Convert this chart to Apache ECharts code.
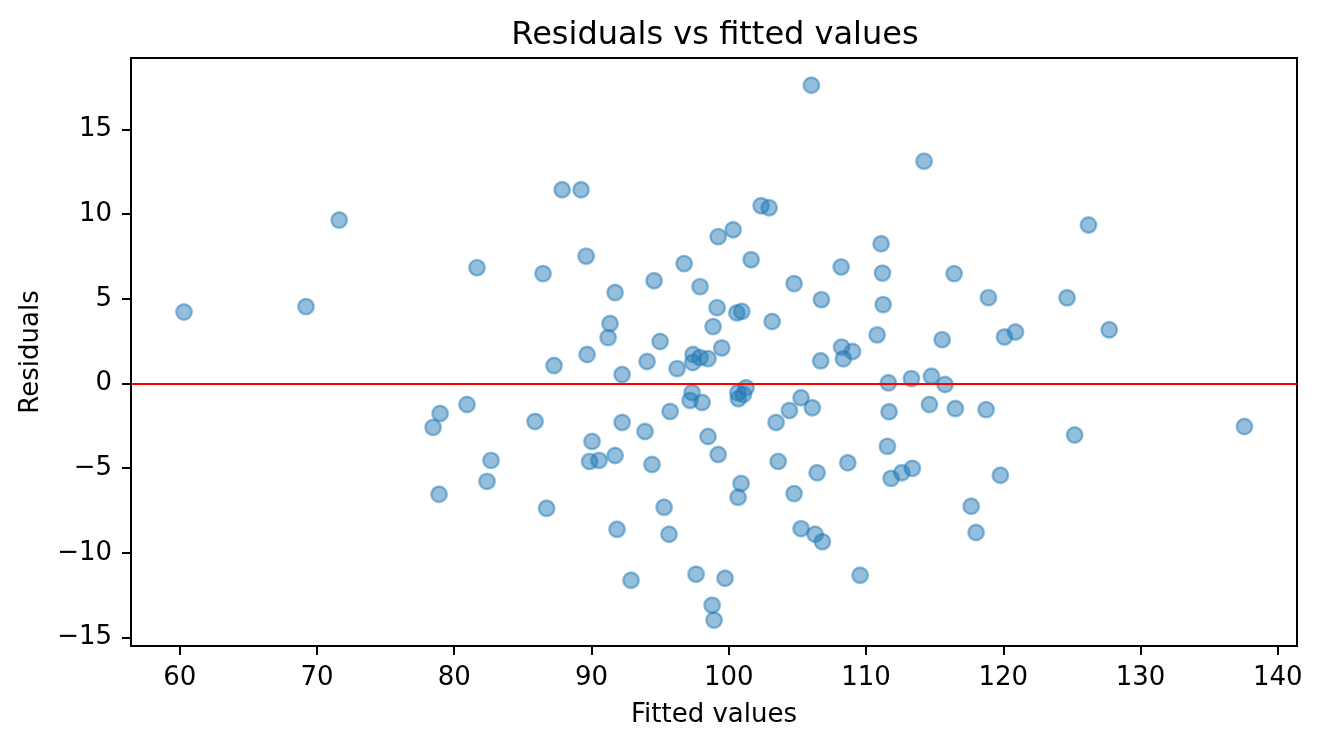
<!DOCTYPE html>
<html>
<head>
<meta charset="utf-8">
<title>Residuals vs fitted values</title>
<script src="https://cdn.jsdelivr.net/npm/echarts@6/dist/echarts.min.js"></script>
<style>
  html, body { margin: 0; padding: 0; background: #fff; }
  #main { width: 1322px; height: 748px; }
</style>
</head>
<body>
<div id="main"></div>
<script>
// values
var fitted = [
  60.31, 69.20, 71.62, 81.66, 78.46, 78.97, 80.93, 78.89, 82.39, 82.68,
  85.89, 86.47, 86.73, 87.27, 87.86, 89.24, 89.61, 89.68, 90.04, 89.86,
  90.55, 91.21, 91.35, 91.72, 91.72, 91.86, 92.23, 92.23, 92.88, 93.90,
  94.05, 94.41, 94.56, 95.00, 95.29, 95.73, 95.65, 96.24, 96.75, 97.18,
  97.40, 97.33, 97.38, 97.62, 97.91, 97.91, 98.06, 98.49, 98.49, 98.79,
  98.86, 98.93, 99.15, 99.23, 99.23, 99.49, 99.73, 100.32, 100.59, 100.66,
  100.70, 100.95, 100.90, 100.68, 101.07, 101.26, 101.63, 102.36, 102.94, 103.16,
  103.45, 103.60, 104.42, 104.76, 104.76, 105.27, 105.27, 106.02, 106.09, 106.29,
  106.44, 106.70, 106.75, 106.82, 108.19, 108.22, 108.35, 108.67, 109.02, 109.57,
  110.81, 111.10, 111.20, 111.25, 111.56, 111.63, 111.68, 111.83, 112.61, 113.31,
  113.38, 114.23, 114.62, 114.77, 115.55, 115.76, 116.42, 116.51, 117.66, 118.02,
  118.75, 118.92, 119.79, 120.09, 120.89, 124.65, 125.20, 126.21, 127.72, 137.57
];
var residuals = [
  4.22, 4.54, 9.65, 6.84, -2.59, -1.77, -1.24, -6.54, -5.78, -4.54,
  -2.24, 6.49, -7.37, 1.06, 11.44, 11.44, 7.52, 1.71, -3.42, -4.60,
  -4.54, 2.71, 3.54, 5.37, -4.25, -8.61, 0.53, -2.30, -11.62, -2.83,
  1.30, -4.78, 6.07, 2.48, -7.31, -1.65, -8.90, 0.88, 7.08, -1.00,
  1.71, -0.53, 1.24, -11.26, 5.72, 1.53, -1.12, 1.47, -3.13, -13.09,
  3.36, -13.97, 4.48, 8.67, -4.19, 2.10, -11.50, 9.08, 4.17, -0.55,
  -0.90, 4.26, -5.90, -6.72, -0.65, -0.25, 7.31, 10.50, 10.38, 3.66,
  -2.30, -4.60, -1.59, 5.90, -6.50, -0.84, -8.57, 17.61, -1.43, -8.90,
  -5.27, 1.34, 4.95, -9.34, 6.88, 2.15, 1.46, -4.68, 1.89, -11.32,
  2.87, 8.25, 6.52, 4.66, -3.71, 0.04, -1.67, -5.60, -5.27, 0.29,
  -5.01, 13.13, -1.24, 0.43, 2.59, -0.06, 6.49, -1.48, -7.25, -8.80,
  -1.54, 5.07, -5.42, 2.75, 3.04, 5.06, -3.04, 9.36, 3.17, -2.54
];
var xTicks = [60, 70, 80, 90, 100, 110, 120, 130, 140];
var yTicks = [-15, -10, -5, 0, 5, 10, 15];

var font = "'DejaVu Sans', sans-serif";
var points = fitted.map(function (x, i) { return [x, residuals[i]]; });

function minusSign(v) {
  return String(v).replace('-', '\u2212');
}

var chart = echarts.init(document.getElementById('main'), null, { renderer: 'canvas' });
chart.setOption({
  animation: false,
  backgroundColor: '#ffffff',
  title: {
    text: 'Residuals vs fitted values',
    left: 710,
    top: 15,
    textAlign: 'center',
    textStyle: { fontFamily: font, fontSize: 32, fontWeight: 'normal', color: '#000' }
  },
  grid: {
    left: 131, right: 25, top: 58, bottom: 102,
    show: true, borderColor: '#000', borderWidth: 2,
    containLabel: false
  },
  xAxis: {
    type: 'value',
    min: 56.45,
    max: 141.4,
    name: 'Fitted values',
    nameLocation: 'middle',
    nameGap: 56,
    nameTextStyle: { fontFamily: font, fontSize: 26, color: '#000' },
    splitLine: { show: false },
    axisLine: { show: true, onZero: false, lineStyle: { color: '#000', width: 2 } },
    axisTick: { show: true, inside: false, length: 9, lineStyle: { color: '#000', width: 2 }, customValues: xTicks },
    axisLabel: { fontFamily: font, fontSize: 26, color: '#000', margin: 19, customValues: xTicks, formatter: minusSign }
  },
  yAxis: {
    type: 'value',
    min: -15.5,
    max: 19.22,
    name: 'Residuals',
    nameLocation: 'middle',
    nameGap: 87,
    nameTextStyle: { fontFamily: font, fontSize: 26, color: '#000' },
    splitLine: { show: false },
    axisLine: { show: true, onZero: false, lineStyle: { color: '#000', width: 2 } },
    axisTick: { show: true, inside: false, length: 9, lineStyle: { color: '#000', width: 2 }, customValues: yTicks },
    axisLabel: { fontFamily: font, fontSize: 26, color: '#000', margin: 19, customValues: yTicks, formatter: minusSign }
  },
  series: [{
    type: 'scatter',
    data: points,
    symbol: 'circle',
    symbolSize: 15.5,
    itemStyle: {
      color: 'rgba(31,119,180,0.6)',
      borderColor: 'rgba(31,119,180,0.6)',
      borderWidth: 2.4
    },
    emphasis: { disabled: true },
    markLine: {
      silent: true,
      symbol: ['none', 'none'],
      label: { show: false },
      lineStyle: { color: '#ff0000', width: 2, type: 'solid' },
      data: [{ yAxis: 0 }]
    }
  }]
});
</script>
</body>
</html>
